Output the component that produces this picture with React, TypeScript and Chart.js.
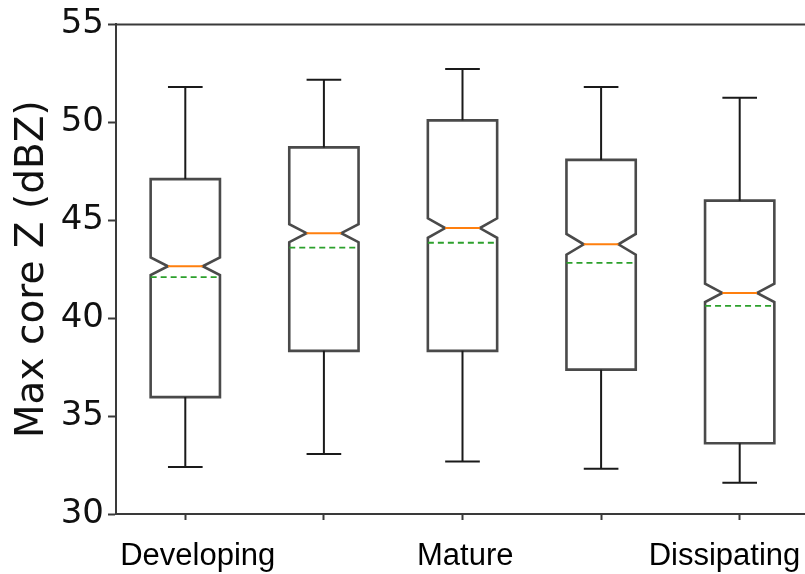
import React, { useEffect, useRef } from "react";
import { Chart, registerables } from "chart.js";

Chart.register(...registerables);

// ---- data ----
const POSITIONS = [1, 2, 3, 4, 5];
const X_LABELS = ["Developing", "Mature", "Dissipating"];
const WHISKER_LOW = [32.4, 33.07, 32.68, 32.31, 31.59];
const Q1 = [35.97, 38.33, 38.33, 37.37, 33.61];
const MEDIAN = [42.65, 44.34, 44.6, 43.77, 41.29];
const MEAN = [42.1, 43.6, 43.85, 42.82, 40.63];
const Q3 = [47.1, 48.72, 50.1, 48.08, 46.0];
const WHISKER_HIGH = [51.8, 52.17, 52.72, 51.8, 51.25];
const NOTCH_HALF = [0.45, 0.46, 0.5, 0.53, 0.47];
const Y_TICKS = [30, 35, 40, 45, 50, 55];

const boxPlugin = {
  id: "notchedBoxes",
  afterDatasetsDraw(chart: any) {
    const { ctx, chartArea } = chart;
    const xs = chart.scales.x;
    const ys = chart.scales.y;
    ctx.save();
    // top spine (the right spine lies beyond the visible page)
    ctx.strokeStyle = "#3a3a3a";
    ctx.lineWidth = 2;
    ctx.beginPath();
    ctx.moveTo(chartArea.left, chartArea.top);
    ctx.lineTo(chartArea.right, chartArea.top);
    ctx.stroke();

    POSITIONS.forEach((p, i) => {
      const x = xs.getPixelForValue(p);
      const hw = xs.getPixelForValue(p + 0.25) - x;
      const yq1 = ys.getPixelForValue(Q1[i]);
      const yq3 = ys.getPixelForValue(Q3[i]);
      const ymed = ys.getPixelForValue(MEDIAN[i]);
      const ynLo = ys.getPixelForValue(MEDIAN[i] - NOTCH_HALF[i]);
      const ynHi = ys.getPixelForValue(MEDIAN[i] + NOTCH_HALF[i]);
      const ylo = ys.getPixelForValue(WHISKER_LOW[i]);
      const yhi = ys.getPixelForValue(WHISKER_HIGH[i]);
      const ymean = ys.getPixelForValue(MEAN[i]);

      // notched box
      ctx.strokeStyle = "#4a4a4a";
      ctx.lineWidth = 2.6;
      ctx.lineJoin = "miter";
      ctx.beginPath();
      ctx.moveTo(x - hw, yq1);
      ctx.lineTo(x - hw, ynLo);
      ctx.lineTo(x - hw / 2, ymed);
      ctx.lineTo(x - hw, ynHi);
      ctx.lineTo(x - hw, yq3);
      ctx.lineTo(x + hw, yq3);
      ctx.lineTo(x + hw, ynHi);
      ctx.lineTo(x + hw / 2, ymed);
      ctx.lineTo(x + hw, ynLo);
      ctx.lineTo(x + hw, yq1);
      ctx.closePath();
      ctx.stroke();

      // whiskers and caps
      ctx.strokeStyle = "#1a1a1a";
      ctx.lineWidth = 2;
      ctx.beginPath();
      ctx.moveTo(x, yq1);
      ctx.lineTo(x, ylo);
      ctx.moveTo(x - hw / 2, ylo);
      ctx.lineTo(x + hw / 2, ylo);
      ctx.moveTo(x, yq3);
      ctx.lineTo(x, yhi);
      ctx.moveTo(x - hw / 2, yhi);
      ctx.lineTo(x + hw / 2, yhi);
      ctx.stroke();

      // median
      ctx.strokeStyle = "#ff7f0e";
      ctx.lineWidth = 2;
      ctx.beginPath();
      ctx.moveTo(x - hw / 2, ymed);
      ctx.lineTo(x + hw / 2, ymed);
      ctx.stroke();

      // mean (dashed)
      ctx.strokeStyle = "#2ca02c";
      ctx.lineWidth = 1.8;
      ctx.setLineDash([6, 4]);
      ctx.beginPath();
      ctx.moveTo(x - hw, ymean);
      ctx.lineTo(x + hw, ymean);
      ctx.stroke();
      ctx.setLineDash([]);
    });
    ctx.restore();
  },
};

export default function App() {
  const ref = useRef<HTMLCanvasElement | null>(null);

  useEffect(() => {
    if (!ref.current) return;
    const chart = new Chart(ref.current, {
      type: "scatter",
      data: {
        datasets: [
          {
            data: POSITIONS.map((p, i) => ({ x: p, y: MEDIAN[i] })),
            pointRadius: 0,
            showLine: false,
          },
        ],
      },
      options: {
        animation: false,
        responsive: false,
        maintainAspectRatio: false,
        devicePixelRatio: 1,
        layout: { padding: { top: 20, right: 31, left: 0, bottom: 0 } },
        plugins: { legend: { display: false }, tooltip: { enabled: false } },
        scales: {
          x: {
            type: "linear",
            position: "bottom",
            min: 0.5,
            max: 5.5,
            weight: 0,
            afterBuildTicks: (axis: any) => {
              axis.ticks = POSITIONS.map((v) => ({ value: v }));
            },
            afterFit: (axis: any) => {
              axis.height = 14;
            },
            ticks: { callback: () => "", padding: 0 },
            grid: {
              drawOnChartArea: false,
              tickLength: 6,
              tickColor: "#3a3a3a",
              tickWidth: 2,
            },
            border: { color: "#3a3a3a", width: 2 },
          },
          x2: {
            type: "linear",
            position: "bottom",
            min: 0.5,
            max: 5.5,
            weight: 1,
            afterBuildTicks: (axis: any) => {
              axis.ticks = [1.09, 3.02, 4.89].map((v) => ({ value: v }));
            },
            afterFit: (axis: any) => {
              axis.height = 46;
            },
            ticks: {
              autoSkip: false,
              maxRotation: 0,
              padding: 10,
              color: "#000",
              font: { family: "'Liberation Sans', Arial, sans-serif", size: 31 },
              callback: (_v: any, idx: number) => X_LABELS[idx],
            },
            grid: { display: false, drawTicks: false },
            border: { display: false },
          },
          y: {
            type: "linear",
            min: 30,
            max: 55,
            afterBuildTicks: (axis: any) => {
              axis.ticks = Y_TICKS.map((v) => ({ value: v }));
            },
            afterFit: (axis: any) => {
              axis.width = 116;
            },
            ticks: {
              padding: 4,
              color: "#111",
              font: { family: "'DejaVu Sans', sans-serif", size: 34 },
            },
            grid: {
              drawOnChartArea: false,
              tickLength: 8,
              tickColor: "#3a3a3a",
              tickWidth: 2,
            },
            border: { color: "#3a3a3a", width: 2 },
            title: {
              display: true,
              text: "Max core Z (dBZ)",
              color: "#111",
              font: { family: "'DejaVu Sans', sans-serif", size: 39 },
              padding: { top: 9, bottom: 0 },
            },
          },
        },
      },
      plugins: [boxPlugin],
    });
    return () => chart.destroy();
  }, []);

  return (
    <div
      style={{
        position: "fixed",
        left: 0,
        top: 0,
        width: 805,
        height: 574,
        overflow: "hidden",
        background: "#fff",
      }}
    >
      <canvas ref={ref} width={840} height={574} style={{ display: "block" }} />
    </div>
  );
}
